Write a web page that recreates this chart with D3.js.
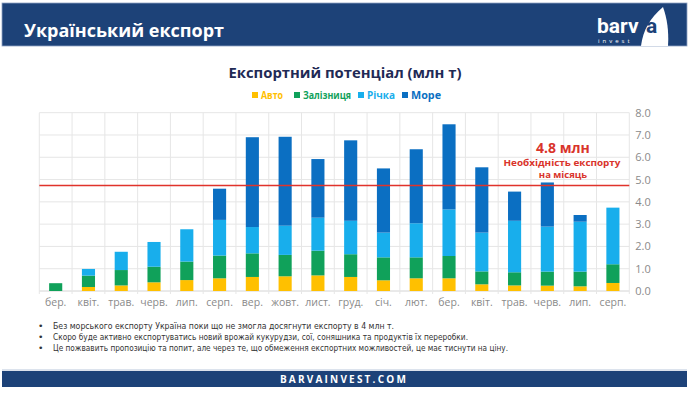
<!DOCTYPE html>
<html>
<head>
<meta charset="utf-8">
<script src="https://cdn.jsdelivr.net/npm/d3@7"></script>
<style>
  body { margin: 0; background: #fff; }
  svg { display: block; font-family: "Open Sans", "Noto Sans", sans-serif; }
</style>
</head>
<body>
<svg id="canvas" width="689" height="393"></svg>
<script>
(() => {
    // Chart data.
    const MONTHS = ["бер.", "квіт.", "трав.", "черв.", "лип.", "серп.", "вер.", "жовт.", "лист.",
        "груд.", "січ.", "лют.", "бер.", "квіт.", "трав.", "черв.", "лип.", "серп."];
    const AUTO = [0.00, 0.18, 0.25, 0.39, 0.49, 0.57, 0.63, 0.66, 0.70, 0.63, 0.48, 0.57, 0.57, 0.30, 0.25, 0.24, 0.21, 0.36];
    const RAIL = [0.35, 0.51, 0.69, 0.70, 0.83, 1.02, 1.06, 0.96, 1.11, 1.02, 1.03, 0.94, 1.00, 0.58, 0.59, 0.63, 0.66, 0.84];
    const RIVER = [0.00, 0.30, 0.82, 1.11, 1.45, 1.60, 1.18, 1.31, 1.48, 1.50, 1.11, 1.53, 2.09, 1.74, 2.31, 2.02, 2.24, 2.54];
    const SEA = [0.00, 0.00, 0.00, 0.00, 0.00, 1.40, 4.03, 3.99, 2.63, 3.61, 2.88, 3.32, 3.82, 2.93, 1.31, 1.98, 0.30, 0.00];
    const SERIES_NAMES = ["Авто", "Залізниця", "Річка", "Море"];
    const Y_TICKS = [0, 1, 2, 3, 4, 5, 6, 7, 8];
    const TARGET = 4.8;
    const NOTES = [
        "Без морського експорту Україна поки що не змогла досягнути експорту в 4 млн т.",
        "Скоро буде активно експортуватись новий врожай кукурудзи, сої, соняшника та продуктів їх переробки.",
        "Це пожвавить пропозицію та попит, але через те, що обмеження експортних можливостей, це має тиснути на ціну."
    ];

    const COLORS = ["#FFC000", "#10A15A", "#18AEEC", "#0B6FC2"];
    const NAVY = "#1D4278";

    let canvas = d3.select("#canvas");

    // Header band.
    canvas.append("rect").attr("x", 2).attr("y", 3).attr("width", 685).attr("height", 43)
        .attr("fill", NAVY).attr("stroke", "#8fa3c4").attr("stroke-width", 0.8);
    canvas.append("text")
        .attr("x", 24).attr("y", 37)
        .attr("fill", "#fff").attr("font-size", 18).attr("font-weight", 700)
        .text("Український експорт");

    // Logo.
    canvas.append("path")
        .attr("d", "M663,7 C650,18 643,30 641,46 L668,46 C669,31 667,18 663,7 Z")
        .attr("fill", "#fff");
    canvas.append("text")
        .attr("x", 597).attr("y", 33)
        .attr("fill", "#fff").attr("font-size", 21).attr("font-weight", 700)
        .attr("font-family", "Roboto, sans-serif")
        .text("barv");
    canvas.append("text")
        .attr("x", 646).attr("y", 33)
        .attr("fill", NAVY).attr("font-size", 21).attr("font-weight", 700)
        .attr("font-family", "Roboto, sans-serif")
        .text("a");
    canvas.append("text")
        .attr("x", 598).attr("y", 43)
        .attr("fill", "#fff").attr("font-size", 6).attr("letter-spacing", 3)
        .text("invest");

    // Chart title.
    canvas.append("text")
        .attr("x", 345).attr("y", 78)
        .attr("text-anchor", "middle")
        .attr("fill", "#1F2A55").attr("font-size", 14.5).attr("font-weight", 700)
        .attr("textLength", 233).attr("lengthAdjust", "spacingAndGlyphs")
        .text("Експортний потенціал (млн т)");

    // Legend.
    const legendX = [252, 294, 358, 402];
    const legendW = [22, 48, 28, 30];
    SERIES_NAMES.forEach((name, i) => {
        let g = canvas.append("g").attr("transform", `translate(${legendX[i]},95)`);
        g.append("rect").attr("x", 0).attr("y", -3).attr("width", 6).attr("height", 6).attr("fill", COLORS[i]);
        g.append("text").attr("x", 9).attr("y", 3.5)
            .attr("fill", COLORS[i]).attr("font-size", 10).attr("font-weight", 700)
            .attr("textLength", legendW[i]).attr("lengthAdjust", "spacingAndGlyphs")
            .text(name);
    });

    // Scales.
    let x = d3.scaleBand().domain(d3.range(MONTHS.length)).range([39.3, 629.3]).padding(0);
    let y = d3.scaleLinear().domain([0, 8]).range([291, 112.7]);
    let barWidth = x.bandwidth() * 0.4;

    // Grid.
    let grid = canvas.append("g");
    grid.selectAll("line.h").data(Y_TICKS).join("line")
        .attr("x1", 39.3).attr("x2", 629.3)
        .attr("y1", d => y(d)).attr("y2", d => y(d))
        .attr("stroke", d => d === 0 ? "#d4d4d4" : "#e6e6e6").attr("stroke-width", 1);
    grid.selectAll("line.v").data(d3.range(MONTHS.length + 1)).join("line")
        .attr("x1", d => 39.3 + d * x.step()).attr("x2", d => 39.3 + d * x.step())
        .attr("y1", y(8)).attr("y2", y(0) + 3)
        .attr("stroke", "#e6e6e6").attr("stroke-width", 1);

    // Y axis on the right.
    let yAxis = d3.axisRight(y).tickValues(Y_TICKS).tickFormat(d3.format(".1f")).tickSize(0).tickPadding(6);
    let yg = canvas.append("g").attr("transform", "translate(629.3,0)").call(yAxis);
    yg.select(".domain").remove();
    yg.selectAll("text").attr("fill", "#8a8a8a").attr("font-size", 11).attr("font-family", "Open Sans, sans-serif");

    // X axis labels.
    let xAxis = d3.axisBottom(x).tickFormat(i => MONTHS[i]).tickSize(0).tickPadding(8);
    let xg = canvas.append("g").attr("transform", `translate(0,${y(0)})`).call(xAxis);
    xg.select(".domain").remove();
    xg.selectAll("text").attr("fill", "#8a8a8a").attr("font-size", 10.5).attr("font-family", "Open Sans, sans-serif");

    // Stacked bars.
    let rows = MONTHS.map((m, i) => ({ i: i, auto: AUTO[i], rail: RAIL[i], river: RIVER[i], sea: SEA[i] }));
    let stack = d3.stack().keys(["auto", "rail", "river", "sea"])(rows);
    canvas.append("g").selectAll("g").data(stack).join("g")
        .attr("fill", (d, k) => COLORS[k])
        .selectAll("rect").data(d => d).join("rect")
        .attr("x", d => x(d.data.i) + (x.bandwidth() - barWidth) / 2)
        .attr("width", barWidth)
        .attr("y", d => y(d[1]))
        .attr("height", d => Math.max(0, y(d[0]) - y(d[1])));

    // Target line and annotation.
    canvas.append("line")
        .attr("x1", 39.3).attr("x2", 629.3)
        .attr("y1", y(TARGET) + 1.5).attr("y2", y(TARGET) + 1.5)
        .attr("stroke", "#E0332B").attr("stroke-width", 1.3);
    let note = canvas.append("g").attr("fill", "#D9342B").attr("font-weight", 700).attr("text-anchor", "middle");
    note.append("text").attr("x", 563).attr("y", 153).attr("font-size", 14).text(`${TARGET} млн`);
    note.append("text").attr("x", 562).attr("y", 165.5).attr("font-size", 9.5)
        .attr("textLength", 117).attr("lengthAdjust", "spacingAndGlyphs")
        .text("Необхідність експорту");
    note.append("text").attr("x", 563).attr("y", 177.5).attr("font-size", 9.5).text("на місяць");

    // Notes.
    const noteW = [341, 415, 455];
    let notes = canvas.append("g").attr("fill", "#333").attr("font-size", 9.2)
        .attr("font-family", "DejaVu Sans, sans-serif");
    NOTES.forEach((t, i) => {
        notes.append("text").attr("x", 38).attr("y", 329 + i * 11.2).text("•");
        notes.append("text").attr("x", 53).attr("y", 329 + i * 11.2)
            .attr("textLength", noteW[i]).attr("lengthAdjust", "spacingAndGlyphs")
            .text(t);
    });

    // Footer band.
    canvas.append("line").attr("x1", 2).attr("x2", 687).attr("y1", 370).attr("y2", 370)
        .attr("stroke", "#b9c6da").attr("stroke-width", 1);
    canvas.append("rect").attr("x", 2).attr("y", 371).attr("width", 685).attr("height", 16).attr("fill", NAVY);
    canvas.append("text")
        .attr("x", 344).attr("y", 383)
        .attr("text-anchor", "middle")
        .attr("fill", "#fff").attr("font-size", 10).attr("font-weight", 700)
        .attr("letter-spacing", 2.2)
        .text("BARVAINVEST.COM");
})();
</script>
</body>
</html>
